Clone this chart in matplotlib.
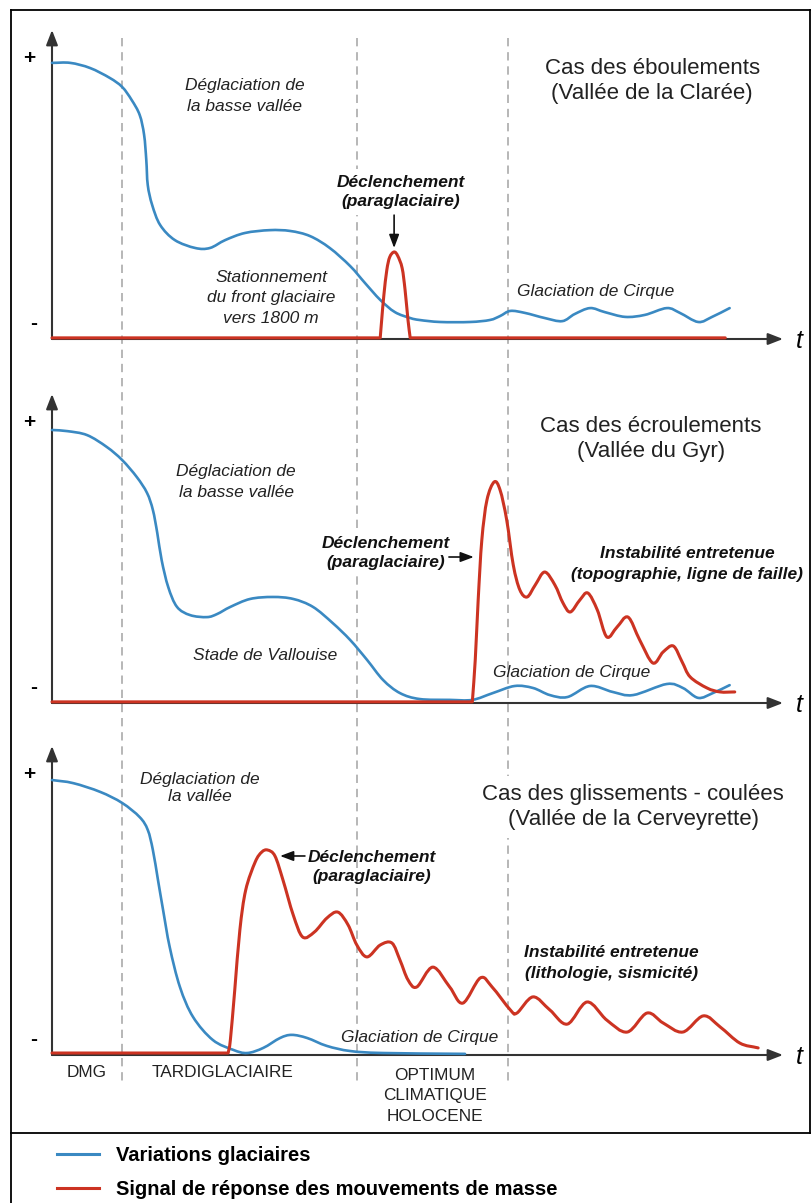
import matplotlib
matplotlib.use('Agg')
import matplotlib.pyplot as plt
from matplotlib.lines import Line2D
from matplotlib.path import Path
from matplotlib.patches import PathPatch
from matplotlib.transforms import blended_transform_factory

plt.rcParams['font.family'] = ['Liberation Sans', 'DejaVu Sans']

W, H = 812, 1203
BLUE = '#3a89c2'
RED = '#cc3322'
AXC = '#333333'
DASH = '#aaaaaa'

# ---------------- data (schematic units: x = time 0..100, y = intensity 0..100) ----
period_bounds = [9.6, 41.7, 62.4]
period_labels = ['DMG', 'TARDIGLACIAIRE', 'OPTIMUM\nCLIMATIQUE\nHOLOCENE']
period_label_x = [4.7, 23.4, 52.4]

# Panel 1 : éboulements (Clarée)
p1_glacier_x = [0, 2.5, 5.2, 7.9, 9.6, 10.9, 12.0, 12.6, 12.9, 13.1, 13.7, 14.8, 16.8, 19.6,
                21.6, 23.7, 26.4, 29.8, 32.6, 35.3, 38.0, 40.8, 42.8, 44.9, 46.9, 49.0, 50.3,
                53.1, 57.2, 59.9, 61.3, 62.7, 64.7, 67.4, 69.8, 71.5, 73.6, 75.6, 78.4, 81.1,
                84.1, 85.9, 88.4, 90.3, 92.7]
p1_glacier_y = [97.4, 97.4, 95.6, 92.1, 88.9, 84.3, 79.0, 72.0, 63.1, 54.3, 47.3, 40.2, 34.9, 32.1,
                32.1, 34.9, 37.4, 38.4, 38.1, 36.3, 32.1, 25.7, 19.8, 13.8, 9.5, 7.4, 6.7,
                6.0, 6.0, 6.7, 8.1, 9.9, 9.2, 7.4, 6.3, 8.8, 10.9, 9.5, 7.8, 8.5,
                10.9, 9.2, 6.0, 7.8, 10.9]
p1_mass_x = [0, 44.9, 45.1, 45.4, 45.8, 46.2, 46.8, 47.3, 47.9, 48.3, 48.7, 49.0, 92.1]
p1_mass_y = [0.4, 0.4, 6.7, 15.5, 24.3, 28.9, 30.7, 29.3, 25.0, 17.3, 6.7, 0.4, 0.4]
p1_mass_corners = [1, 11]

# Panel 2 : écroulements (Gyr)
p2_glacier_x = [0, 2.1, 4.8, 7.5, 9.6, 11.6, 13.0, 13.8, 14.4, 15.0, 15.9, 17.1, 18.9, 21.2,
                22.6, 24.4, 27.1, 30.2, 33.0, 35.7, 38.4, 40.8, 43.1, 45.3, 47.6, 50.3, 54.4,
                57.5, 60.3, 63.3, 65.8, 68.1, 70.5, 73.6, 76.7, 79.5, 84.1, 86.3, 88.4, 90.4, 92.7]
p2_glacier_y = [96.3, 95.9, 94.5, 90.3, 85.7, 79.7, 74.1, 68.1, 60.0, 50.4, 40.9, 33.9, 31.0, 30.3,
                31.4, 33.9, 36.7, 37.4, 36.7, 33.9, 28.2, 22.2, 15.2, 8.1, 3.5, 1.4, 1.1,
                1.1, 3.5, 6.0, 5.3, 2.8, 2.1, 6.0, 3.9, 2.8, 6.7, 5.3, 1.8, 3.5, 6.3]
p2_mass_x = [0, 57.5, 57.9, 58.3, 58.8, 59.5, 60.5, 61.3, 62.2, 63.1, 64.0, 65.0, 66.1, 67.4,
             68.8, 69.9, 70.9, 72.2, 73.3, 74.6, 75.9, 77.3, 78.8, 80.4, 82.2, 83.6, 85.0,
             86.2, 87.3, 89.6, 91.4, 93.4]
p2_mass_y = [0.4, 0.4, 15.2, 36.3, 57.5, 71.6, 78.0, 75.1, 64.6, 48.7, 39.9, 37.4, 41.6, 46.2,
             41.6, 35.3, 32.1, 36.3, 38.8, 32.8, 23.3, 26.8, 30.3, 22.2, 14.1, 18.0, 20.1,
             14.5, 9.2, 5.3, 3.9, 3.9]
p2_mass_corners = [1]

# Panel 3 : glissements - coulées (Cerveyrette)
p3_glacier_x = [0, 2.9, 6.6, 9.6, 12.0, 13.1, 13.8, 14.5, 15.2, 16.1, 17.5, 19.3, 22.0, 24.8,
                26.7, 28.9, 31.2, 32.8, 34.9, 37.6, 40.8, 45.3, 56.5]
p3_glacier_y = [97.0, 95.9, 92.8, 88.9, 83.9, 79.4, 72.3, 61.7, 51.1, 38.1, 24.0, 13.4, 5.3, 1.8,
                0.7, 2.5, 6.0, 7.1, 6.0, 3.2, 1.4, 0.7, 0.4]
p3_mass_x = [0, 24.1, 24.4, 25.0, 25.7, 26.5, 27.8, 28.7, 29.5, 30.5, 31.6, 33.0, 34.3, 35.9,
             37.6, 39.1, 40.5, 41.7, 43.1, 44.9, 46.5, 47.6, 48.7, 49.9, 52.1, 54.4, 56.2,
             58.6, 60.2, 62.7, 63.6, 65.8, 68.1, 70.5, 73.2, 75.9, 78.7, 81.4, 83.6, 86.3,
             89.1, 91.4, 94.1, 96.6]
p3_mass_y = [0.7, 0.7, 5.3, 22.9, 44.1, 58.2, 68.1, 71.6, 72.3, 70.2, 61.7, 49.4, 41.6, 43.4,
             48.3, 50.4, 45.9, 38.8, 34.6, 38.8, 39.5, 33.5, 26.5, 24.0, 31.0, 24.0, 18.3,
             27.2, 24.0, 15.9, 14.8, 20.5, 15.9, 10.9, 18.7, 12.3, 8.1, 14.8, 11.3, 8.1,
             13.8, 9.9, 4.2, 2.5]
p3_mass_corners = [1]

legend_labels = ['Variations glaciaires', 'Signal de réponse des mouvements de masse']

# ---------------- figure ----------------
fig = plt.figure(figsize=(W / 100, H / 100), dpi=100)


def fx(px):
    return px / W


def fy(py):
    return 1 - py / H


def smooth_curve(ax, xs, ys, color, lw, corners=(), zorder=3):
    """Draw a smooth (cubic Bezier) path passing through the given points."""
    pts = list(zip(xs, ys))
    n = len(pts)
    t_in, t_out = [], []
    for i in range(n):
        if i == 0:
            t = (pts[1][0] - pts[0][0], pts[1][1] - pts[0][1])
            t_in.append(t); t_out.append(t)
        elif i == n - 1:
            t = (pts[i][0] - pts[i - 1][0], pts[i][1] - pts[i - 1][1])
            t_in.append(t); t_out.append(t)
        elif i in corners:
            t_in.append((pts[i][0] - pts[i - 1][0], pts[i][1] - pts[i - 1][1]))
            t_out.append((pts[i + 1][0] - pts[i][0], pts[i + 1][1] - pts[i][1]))
        else:
            t = ((pts[i + 1][0] - pts[i - 1][0]) / 2, (pts[i + 1][1] - pts[i - 1][1]) / 2)
            t_in.append(t); t_out.append(t)
    verts = [pts[0]]
    codes = [Path.MOVETO]
    for i in range(n - 1):
        p1, p2 = pts[i], pts[i + 1]
        c1 = (p1[0] + t_out[i][0] / 3, p1[1] + t_out[i][1] / 3)
        c2 = (p2[0] - t_in[i + 1][0] / 3, p2[1] - t_in[i + 1][1] / 3)
        verts += [c1, c2, p2]
        codes += [Path.CURVE4] * 3
    patch = PathPatch(Path(verts, codes), fill=False, edgecolor=color, lw=lw,
                      capstyle='round', joinstyle='round', zorder=zorder, clip_on=False)
    ax.add_patch(patch)


def panel(axis_py):
    ax = fig.add_axes([fx(52), fy(axis_py), 731 / W, 309 / H])
    ax.set_xlim(0, 100)
    ax.set_ylim(0, 109)
    ax.axis('off')
    arrow = dict(arrowstyle='-|>,head_length=0.9,head_width=0.35', mutation_scale=10,
                 lw=1.5, color=AXC, shrinkA=0, shrinkB=0)
    ax.annotate('', xy=(1, 0), xytext=(0, 0), xycoords='axes fraction',
                arrowprops=arrow, annotation_clip=False)
    ax.annotate('', xy=(0, 1), xytext=(0, 0), xycoords='axes fraction',
                arrowprops=arrow, annotation_clip=False)
    ax.text(-3.1, 99, '+', fontsize=15, fontweight='bold', ha='center', va='center', clip_on=False)
    ax.text(-2.5, 5.5, '-', fontsize=15, fontweight='bold', ha='center', va='center', clip_on=False)
    ax.text(102.3, -0.7, 't', fontsize=18, fontstyle='italic', ha='center', va='center', clip_on=False)
    return ax


LW = 1.9
ital = dict(fontsize=12.5, fontstyle='italic', color='#222222', ha='center', va='center')
bital = dict(fontsize=12.5, fontstyle='italic', fontweight='bold', color='#111111', ha='center', va='center')
title = dict(fontsize=16, color='#222222', ha='center', va='center', linespacing=1.3)
white = dict(boxstyle='square,pad=0.35', fc='white', ec='none')
arr = dict(arrowstyle='-|>,head_length=0.8,head_width=0.3', mutation_scale=10, lw=1.2,
           color='#111111', shrinkA=0, shrinkB=0)

# Panel 1
ax1 = panel(339)
smooth_curve(ax1, p1_glacier_x, p1_glacier_y, BLUE, LW)
smooth_curve(ax1, p1_mass_x, p1_mass_y, RED, LW + 0.3, corners=p1_mass_corners, zorder=4)
ax1.text(26.4, 85.7, 'Déglaciation de\nla basse vallée', linespacing=1.5, **ital)
ax1.text(30.0, 14.5, 'Stationnement\ndu front glaciaire\nvers 1800 m', linespacing=1.48, **ital)
ax1.text(47.7, 51.9, 'Déclenchement\n(paraglaciaire)', linespacing=1.35, bbox=white, **bital)
ax1.annotate('', xy=(46.8, 32.1), xytext=(46.8, 43.7), arrowprops=arr)
ax1.text(82.1, 91.0, 'Cas des éboulements\n(Vallée de la Clarée)', **title)
ax1.text(74.3, 16.6, 'Glaciation de Cirque', **ital)

# Panel 2
ax2 = panel(703)
smooth_curve(ax2, p2_glacier_x, p2_glacier_y, BLUE, LW)
smooth_curve(ax2, p2_mass_x, p2_mass_y, RED, LW + 0.3, corners=p2_mass_corners, zorder=4)
ax2.text(25.2, 78.0, 'Déglaciation de\nla basse vallée', linespacing=1.5, **ital)
ax2.text(29.1, 16.6, 'Stade de Vallouise', **ital)
ax2.text(45.6, 52.9, 'Déclenchement\n(paraglaciaire)', linespacing=1.35, bbox=white, **bital)
ax2.annotate('', xy=(57.7, 51.5), xytext=(54.3, 51.5), arrowprops=arr)
ax2.text(81.9, 93.1, 'Cas des écroulements\n(Vallée du Gyr)', **title)
ax2.text(86.9, 49.0, 'Instabilité entretenue\n(topographie, ligne de faille)', linespacing=1.5, **bital)
ax2.text(71.1, 10.9, 'Glaciation de Cirque', **ital)

# Panel 3
ax3 = panel(1055)
smooth_curve(ax3, p3_glacier_x, p3_glacier_y, BLUE, LW)
smooth_curve(ax3, p3_mass_x, p3_mass_y, RED, LW + 0.3, corners=p3_mass_corners, zorder=4)
ax3.text(20.2, 94.2, 'Déglaciation de\nla vallée', linespacing=1.15, **ital)
ax3.text(43.8, 66.3, 'Déclenchement\n(paraglaciaire)', linespacing=1.35, **bital)
ax3.annotate('', xy=(31.2, 70.2), xytext=(34.6, 70.2), arrowprops=arr)
ax3.text(79.5, 87.5, 'Cas des glissements - coulées\n(Vallée de la Cerveyrette)', bbox=white, **title)
ax3.text(76.5, 32.5, 'Instabilité entretenue\n(lithologie, sismicité)', linespacing=1.5, **bital)
ax3.text(50.3, 6.3, 'Glaciation de Cirque', **ital)
for lab, xl in zip(period_labels, period_label_x):
    yl = -14.4 if '\n' in lab else -6.3
    ax3.text(xl, yl, lab, fontsize=12.4, color='#222222', ha='center', va='center',
             linespacing=1.48, clip_on=False)

# period boundaries (dashed, through all panels)
bt = blended_transform_factory(ax1.transData, fig.transFigure)
for b in period_bounds:
    fig.add_artist(Line2D([b, b], [fy(38), fy(1082)], transform=bt, color=DASH, lw=1.2,
                          ls=(0, (5, 3.5)), zorder=-1))

# frame and separator
frame = dict(transform=fig.transFigure, color='black', lw=1.3)
fig.add_artist(Line2D([fx(11), fx(811)], [fy(10), fy(10)], **frame))
fig.add_artist(Line2D([fx(11), fx(11)], [fy(10), fy(1203)], **frame))
fig.add_artist(Line2D([fx(810), fx(810)], [fy(10), fy(1133)], **frame))
fig.add_artist(Line2D([fx(11), fx(812)], [fy(1133), fy(1133)], **frame))

# legend
handles = [Line2D([], [], color=BLUE, lw=2.2), Line2D([], [], color=RED, lw=2.2)]
fig.legend(handles, legend_labels, loc='upper left', bbox_to_anchor=(fx(57), fy(1146)),
           frameon=False, borderpad=0, borderaxespad=0, handlelength=2.1, handletextpad=0.85,
           labelspacing=0.75, prop=dict(family='Liberation Sans', weight='bold', size=14.5))

fig.savefig('out.png', dpi=100, facecolor='white')
